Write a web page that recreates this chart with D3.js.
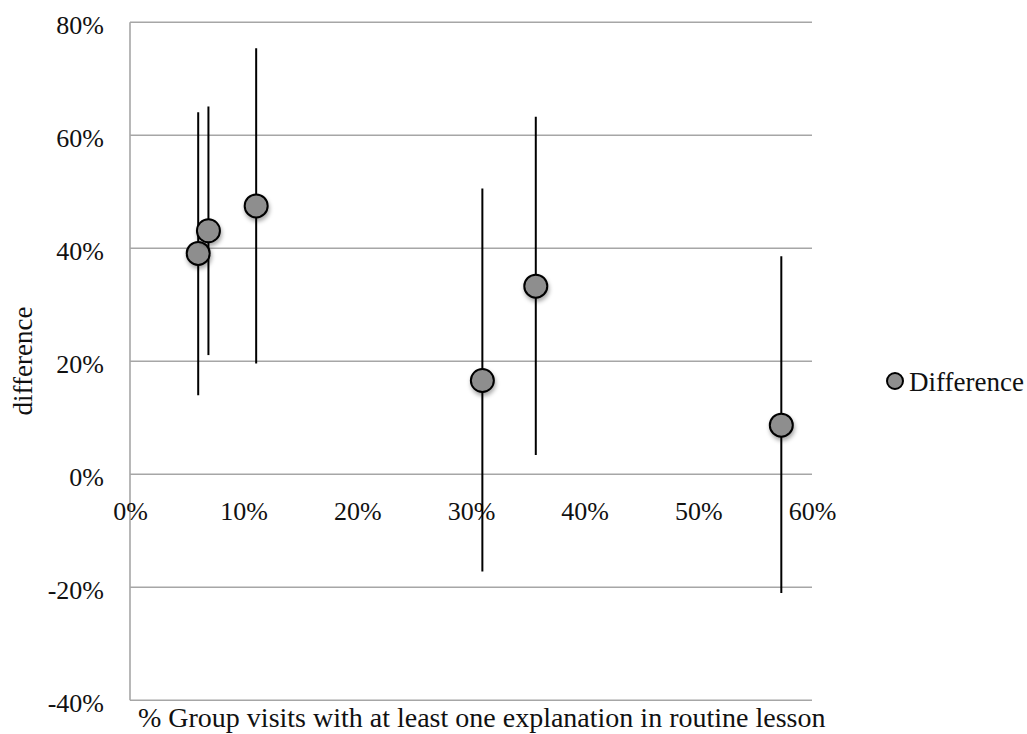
<!DOCTYPE html>
<html>
<head>
<meta charset="utf-8">
<script src="https://cdn.jsdelivr.net/npm/d3@7/dist/d3.min.js"></script>
<style>
  html, body { margin: 0; padding: 0; background: #fff; }
  svg text { font-family: "Liberation Serif", serif; fill: #111; }
</style>
</head>
<body>
<svg id="chart" width="1027" height="734"></svg>
<script>
// Share of group visits with at least one explanation (x) and the estimated difference (y)
const groupShare = [0.060, 0.069, 0.111, 0.310, 0.357, 0.573];
const difference = [0.391, 0.431, 0.475, 0.166, 0.333, 0.087];
const lowerBound = [0.140, 0.211, 0.196, -0.172, 0.034, -0.210];
const upperBound = [0.641, 0.651, 0.754, 0.506, 0.633, 0.386];

const xTicks = [0, 0.1, 0.2, 0.3, 0.4, 0.5, 0.6];
const yTicks = [-0.4, -0.2, 0, 0.2, 0.4, 0.6, 0.8];
const seriesName = "Difference";
const xTitle = "% Group visits with at least one explanation in routine lesson";
const yTitle = "difference";

const svg = d3.select("#chart");
const plot = { left: 130, right: 812, top: 22.3, bottom: 700.3 };

const x = d3.scaleLinear().domain([0, 0.6]).range([plot.left, plot.right]);
const y = d3.scaleLinear().domain([-0.4, 0.8]).range([plot.bottom, plot.top]);
// percentages with a plain hyphen for negatives
const pct = v => d3.format(".0%")(v).replace("\u2212", "-");

// soft shadow under the markers
const defs = svg.append("defs");
const f = defs.append("filter").attr("id", "shadow")
  .attr("x", "-50%").attr("y", "-50%").attr("width", "200%").attr("height", "200%");
f.append("feDropShadow").attr("dx", 1).attr("dy", 3).attr("stdDeviation", 2.2)
  .attr("flood-color", "#000").attr("flood-opacity", 0.35);

// horizontal gridlines
svg.append("g").selectAll("line").data(yTicks).join("line")
  .attr("x1", plot.left).attr("x2", plot.right)
  .attr("y1", d => y(d)).attr("y2", d => y(d))
  .attr("stroke", "#a6a6a6").attr("stroke-width", 1.6);

// left axis line
svg.append("line")
  .attr("x1", plot.left).attr("x2", plot.left)
  .attr("y1", plot.top).attr("y2", plot.bottom)
  .attr("stroke", "#a6a6a6").attr("stroke-width", 1.6);

// y tick labels
const yAxis = d3.axisLeft(y).tickValues(yTicks).tickFormat(pct).tickSize(0).tickPadding(0);
const gy = svg.append("g").attr("transform", `translate(${plot.left - 26},0)`).call(yAxis);
gy.select(".domain").remove();
gy.selectAll("text").attr("font-family", "Liberation Serif").attr("font-size", 26)
  .attr("fill", "#111").attr("dy", "0.42em");

// x tick labels below the zero line
const xAxis = d3.axisBottom(x).tickValues(xTicks).tickFormat(pct).tickSize(0).tickPadding(0);
const gx = svg.append("g").attr("transform", `translate(0,${y(0) + 37})`).call(xAxis);
gx.select(".domain").remove();
gx.selectAll("text").attr("font-family", "Liberation Serif").attr("font-size", 26)
  .attr("fill", "#111").attr("dy", "0.32em");

const pts = groupShare.map((g, i) => ({ g, d: difference[i], lo: lowerBound[i], hi: upperBound[i] }));

// error bars
svg.append("g").selectAll("line").data(pts).join("line")
  .attr("x1", p => x(p.g)).attr("x2", p => x(p.g))
  .attr("y1", p => y(p.hi)).attr("y2", p => y(p.lo))
  .attr("stroke", "#000").attr("stroke-width", 2);

// markers
svg.append("g").selectAll("circle").data(pts).join("circle")
  .attr("cx", p => x(p.g)).attr("cy", p => y(p.d)).attr("r", 11.5)
  .attr("fill", "#8e8e8e").attr("stroke", "#000").attr("stroke-width", 2)
  .attr("filter", "url(#shadow)");

// axis titles
svg.append("text")
  .attr("transform", "translate(32,361) rotate(-90)")
  .attr("text-anchor", "middle").attr("font-size", 27)
  .text(yTitle);

svg.append("text")
  .attr("x", 138).attr("y", 727)
  .attr("font-size", 28)
  .text(xTitle);

// legend
const lg = svg.append("g").attr("transform", "translate(895,381)");
lg.append("circle").attr("r", 8).attr("fill", "#8e8e8e")
  .attr("stroke", "#000").attr("stroke-width", 2);
lg.append("text").attr("x", 14).attr("y", 10).attr("font-size", 27).text(seriesName);
</script>
</body>
</html>
